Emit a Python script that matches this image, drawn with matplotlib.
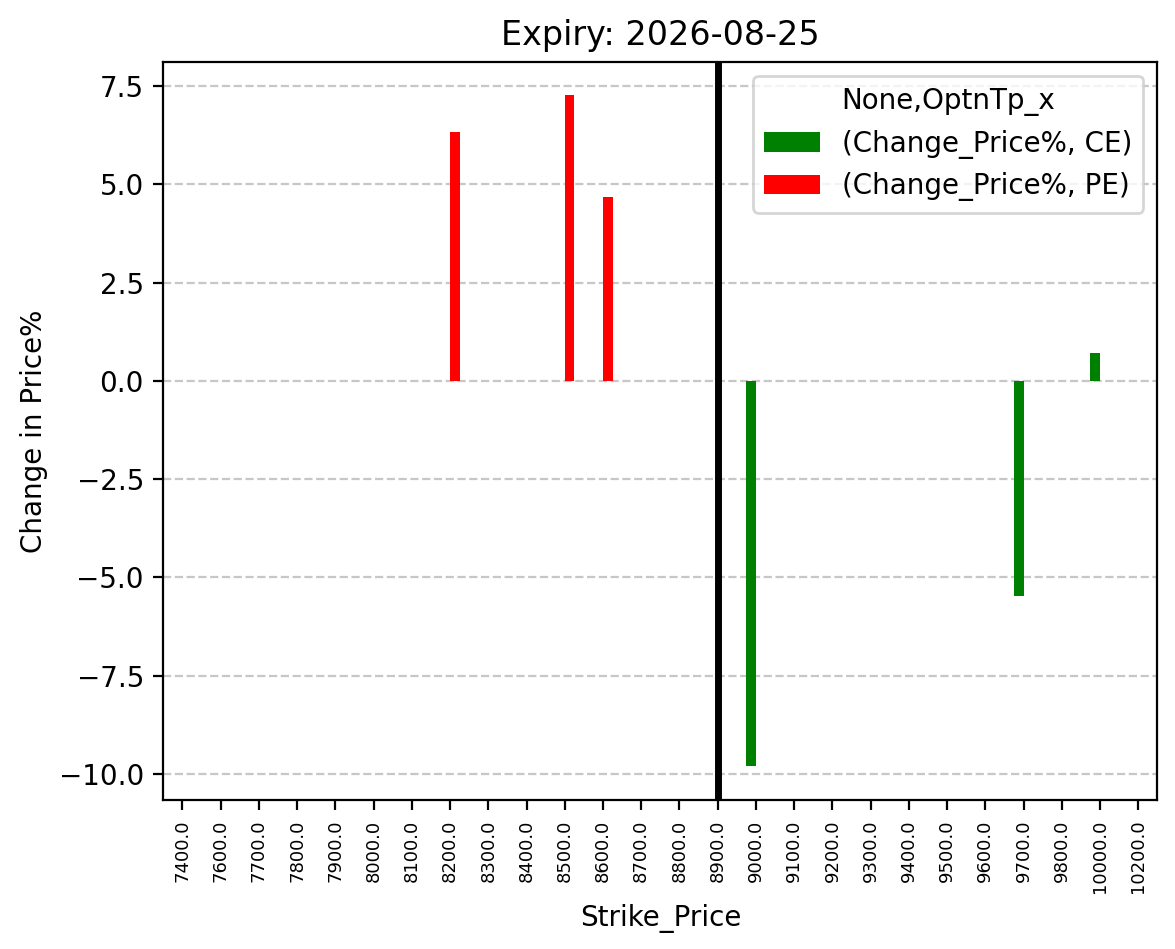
import numpy as np
import pandas as pd
import matplotlib
matplotlib.use('Agg')
import matplotlib.pyplot as plt

#--------------------------Data------------------------------------------------------

strikes = [7400.0, 7600.0, 7700.0, 7800.0, 7900.0, 8000.0, 8100.0, 8200.0, 8300.0,
           8400.0, 8500.0, 8600.0, 8700.0, 8800.0, 8900.0, 9000.0, 9100.0, 9200.0,
           9300.0, 9400.0, 9500.0, 9600.0, 9700.0, 9800.0, 10000.0, 10200.0]
nan = np.nan
ce_change = [nan, nan, nan, nan, nan, nan, nan, nan, nan,
             nan, nan, nan, nan, nan, nan, -9.81, nan, nan,
             nan, nan, nan, nan, -5.48, nan, 0.71, nan]
pe_change = [nan, nan, nan, nan, nan, nan, nan, 6.33, nan,
             nan, 7.27, 4.68, nan, nan, nan, nan, nan, nan,
             nan, nan, nan, nan, nan, nan, nan, nan]
spot_strike = 8900.0
expiry = '2026-08-25'

#--------------------------Pivot-like frame------------------------------------------

cols = pd.MultiIndex.from_tuples([('Change_Price%', 'CE'), ('Change_Price%', 'PE')],
                                 names=[None, 'OptnTp_x'])
df = pd.DataFrame(np.column_stack([ce_change, pe_change]),
                  index=pd.Index(strikes, name='Strike_Price'), columns=cols)

#--------------------------Plot------------------------------------------------------

fig, ax = plt.subplots(figsize=(5.875, 4.745), dpi=200)
df.plot(kind='bar', ax=ax, color=['green', 'red'])

spot_idx = strikes.index(spot_strike)
ax.axvline(x=spot_idx, color='black', linewidth=2.5)

ax.grid(axis='y', linestyle='--', alpha=0.7)
ax.set_axisbelow(True)
ax.tick_params(axis='x', labelsize=6.5)
ax.set_xlabel('Strike_Price')
ax.set_ylabel('Change in Price%')
ax.set_title('Expiry: ' + expiry)
ax.legend(title='None,OptnTp_x', loc='upper right')

fig.subplots_adjust(left=0.139, right=0.985, top=0.935, bottom=0.157)
fig.savefig('out.png', dpi=200)
